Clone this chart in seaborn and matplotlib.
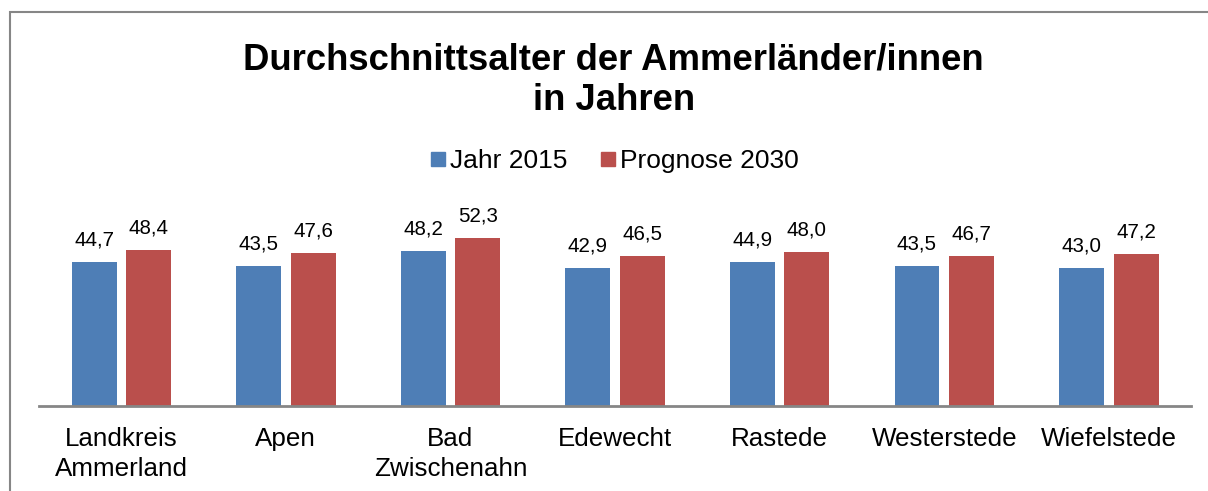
"""
Durchschnittsalter der Ammerländer/innen - Balkendiagramm
"""

import pandas as pd
import matplotlib.pyplot as plt
import seaborn as sns
from matplotlib.lines import Line2D
from matplotlib.patches import Rectangle

# Daten
orte = ['Landkreis\nAmmerland', 'Apen', 'Bad\nZwischenahn', 'Edewecht',
        'Rastede', 'Westerstede', 'Wiefelstede']
jahr_2015 = [44.7, 43.5, 48.2, 42.9, 44.9, 43.5, 43.0]
prognose_2030 = [48.4, 47.6, 52.3, 46.5, 48.0, 46.7, 47.2]
serien = ['Jahr 2015', 'Prognose 2030']
farben = ['#4E7EB6', '#BA4F4C']

df = pd.DataFrame({
    'Ort': orte * 2,
    'Serie': [serien[0]] * len(orte) + [serien[1]] * len(orte),
    'Alter': jahr_2015 + prognose_2030,
})

sns.set_style('white')
plt.rcParams['font.family'] = ['Liberation Sans', 'DejaVu Sans']
plt.rcParams['text.color'] = 'black'
plt.rcParams['xtick.color'] = 'black'
plt.rcParams['xtick.labelcolor'] = 'black'

fig = plt.figure(figsize=(12.08, 4.91), dpi=100)
ax = fig.add_axes([0.0323, 0.1731, 0.9537, 0.393])

sns.barplot(data=df, x='Ort', y='Alter', hue='Serie', palette=farben,
            width=0.662, gap=0.175, ax=ax, legend=False, saturation=1,
            linewidth=0)

# Datenbeschriftungen
for cont in ax.containers:
    labels = [f'{v:.1f}'.replace('.', ',') for v in cont.datavalues]
    ax.bar_label(cont, labels=labels, padding=9, fontsize=14.8, color='black')

ax.set_xlim(-0.5, len(orte) - 0.5)
ax.set_ylim(0, 60)
ax.set_xlabel('')
ax.set_ylabel('')
ax.set_yticks([])
ax.tick_params(axis='x', length=0, labelsize=18.7, pad=15)
for lbl in ax.get_xticklabels():
    lbl.set_linespacing(1.32)
    lbl.set_color('black')
for side in ['top', 'right', 'left']:
    ax.spines[side].set_visible(False)
ax.spines['bottom'].set_color('#868686')
ax.spines['bottom'].set_linewidth(2)

# Titel
fig.text(0.508, 0.837, 'Durchschnittsalter der Ammerländer/innen\nin Jahren',
         ha='center', va='center', fontsize=26.3, fontweight='bold',
         linespacing=1.2, color='black')

# Legende
handles = [Line2D([0], [0], marker='s', linestyle='', markersize=10,
                  markerfacecolor=c, markeredgecolor=c) for c in farben]
fig.legend(handles, serien, loc='center', bbox_to_anchor=(0.508, 0.672),
           ncol=2, frameon=False, fontsize=19, handlelength=0.7,
           handletextpad=0.1, columnspacing=1.2, borderaxespad=0)

# Rahmen
fig.patches.append(Rectangle((0.0083, -0.05), 1.1, 0.9756 + 0.05,
                             transform=fig.transFigure, fill=False,
                             edgecolor='#868686', linewidth=1.5))

fig.savefig('out.png', dpi=100)
